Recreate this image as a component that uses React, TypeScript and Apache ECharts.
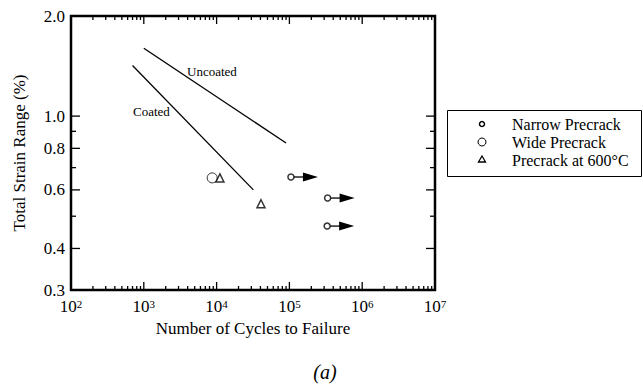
import React, { useEffect, useRef } from "react";
import * as echarts from "echarts";

const FONT = '"Liberation Serif", "Times New Roman", serif';

// Axis ranges
const X_MIN = 100;
const X_MAX = 1e7;
const Y_MIN = 0.3;
const Y_MAX = 2.0;

// Tick values
const xMajorTicks = [1e2, 1e3, 1e4, 1e5, 1e6, 1e7];
const xMinorSteps = [2, 3, 4, 5, 6, 7, 8, 9];
const yLabelTicks = [0.3, 0.4, 0.6, 0.8, 1.0, 2.0];
const yTickLabels = ["0.3", "0.4", "0.6", "0.8", "1.0", "2.0"];
const yMinorTicks = [0.5, 0.7, 0.9];

// Fitted lines
const uncoatedLine = [
  [1000, 1.6],
  [90000, 0.83],
];
const coatedLine = [
  [700, 1.42],
  [32000, 0.6],
];

// Specimens
const narrowPrecrack = [
  [105000, 0.656],
  [335000, 0.567],
  [330000, 0.467],
];
const widePrecrack = [[8700, 0.652]];
const precrack600 = [
  [11100, 0.652],
  [40700, 0.545],
];

const legendNames = ["Narrow Precrack", "Wide Precrack", "Precrack at 600\u00b0C"];

export default function App() {
  const ref = useRef<HTMLDivElement>(null);

  useEffect(() => {
    if (!ref.current) return;
    const chart = echarts.init(ref.current, null, { renderer: "svg" });

    const tickRender = (params: any, api: any) => {
      const children: any[] = [];
      const [xl, yb] = api.coord([X_MIN, Y_MIN]);
      const [xr, yt] = api.coord([X_MAX, Y_MAX]);
      const st = { stroke: "#000", lineWidth: 1.3 };
      const xt: { v: number; major: boolean }[] = [];
      for (let i = 0; i < xMajorTicks.length; i++) {
        xt.push({ v: xMajorTicks[i], major: true });
        if (i < xMajorTicks.length - 1) {
          xMinorSteps.forEach((k) => xt.push({ v: k * xMajorTicks[i], major: false }));
        }
      }
      xt.forEach((t) => {
        const [x] = api.coord([t.v, Y_MIN]);
        const len = t.major ? 8 : 4;
        children.push({ type: "line", shape: { x1: x, y1: yb, x2: x, y2: yb - len }, style: st });
        children.push({ type: "line", shape: { x1: x, y1: yt, x2: x, y2: yt + len }, style: st });
      });
      const yt2 = yLabelTicks.map((v) => ({ v, major: true })).concat(yMinorTicks.map((v) => ({ v, major: false })));
      yt2.forEach((t) => {
        const [, y] = api.coord([X_MIN, t.v]);
        const len = t.major ? 9 : 5;
        children.push({ type: "line", shape: { x1: xl, y1: y, x2: xl + len, y2: y }, style: st });
        children.push({ type: "line", shape: { x1: xr, y1: y, x2: xr - len, y2: y }, style: st });
      });
      yLabelTicks.forEach((v, i) => {
        const [, y] = api.coord([X_MIN, v]);
        children.push({
          type: "text",
          style: {
            text: yTickLabels[i],
            x: xl - 6,
            y,
            align: "right",
            verticalAlign: "middle",
            textAlign: "right",
            textVerticalAlign: "middle",
            fill: "#000",
            fontFamily: FONT,
            fontSize: 17,
          },
        });
      });
      return { type: "group", children };
    };

    const arrowRender = (params: any, api: any) => {
      const [x, y] = api.coord([api.value(0), api.value(1)]);
      return {
        type: "group",
        children: [
          { type: "line", shape: { x1: x + 3, y1: y, x2: x + 13, y2: y }, style: { stroke: "#000", lineWidth: 1.3 } },
          {
            type: "polygon",
            shape: { points: [[x + 12, y - 4.5], [x + 27, y], [x + 12, y + 4.5]] },
            style: { fill: "#000" },
          },
        ],
      };
    };

    const lineStyle = { color: "#000", width: 1.3 };

    const option: any = {
      animation: false,
      backgroundColor: "#fff",
      grid: {
        left: 71,
        top: 16,
        width: 364,
        height: 274,
        show: true,
        borderColor: "#000",
        borderWidth: 2.5,
        backgroundColor: "transparent",
      },
      xAxis: {
        type: "log",
        logBase: 10,
        min: X_MIN,
        max: X_MAX,
        axisLine: { show: false },
        axisTick: { show: false },
        splitLine: { show: false },
        axisLabel: {
          margin: 8,
          formatter: (v: number) => `{b|10}{s|${Math.round(Math.log10(v))}}`,
          rich: {
            b: { fontFamily: FONT, fontSize: 17, color: "#000" },
            s: { fontFamily: FONT, fontSize: 11, color: "#000", verticalAlign: "top", padding: [0, 0, 6, 0] },
          },
        },
        name: "Number of Cycles to Failure",
        nameLocation: "middle",
        nameGap: 29,
        nameTextStyle: { fontFamily: FONT, fontSize: 17, color: "#000" },
      },
      yAxis: {
        type: "log",
        logBase: 10,
        min: Y_MIN,
        max: Y_MAX,
        axisLine: { show: false },
        axisTick: { show: false },
        axisLabel: { show: false },
        splitLine: { show: false },
        name: "Total Strain Range (%)",
        nameLocation: "middle",
        nameGap: 43,
        nameTextStyle: { fontFamily: FONT, fontSize: 17, color: "#000" },
      },
      graphic: [
        {
          type: "rect",
          shape: { x: 447.5, y: 110.5, width: 194, height: 66 },
          style: { fill: "none", stroke: "#000", lineWidth: 1 },
        },
        { type: "circle", shape: { cx: 482, cy: 124, r: 2.5 }, style: { fill: "#fff", stroke: "#000", lineWidth: 1.5 } },
        { type: "circle", shape: { cx: 482, cy: 142, r: 4 }, style: { fill: "#fff", stroke: "#000", lineWidth: 1 } },
        {
          type: "polygon",
          shape: { points: [[482, 156], [485.5, 162], [478.5, 162]] },
          style: { fill: "#fff", stroke: "#000", lineWidth: 1.3 },
        },
        ...legendNames.map((t, i) => ({
          type: "text",
          x: 512,
          y: 124 + i * 18,
          style: {
            text: t,
            fill: "#000",
            fontFamily: FONT,
            fontSize: 16,
            textVerticalAlign: "middle",
            verticalAlign: "middle",
          },
        })),
        {
          type: "text",
          x: 187,
          y: 71,
          style: { text: "Uncoated", fill: "#000", fontFamily: FONT, fontSize: 13, verticalAlign: "middle", textVerticalAlign: "middle" },
        },
        {
          type: "text",
          x: 133,
          y: 111,
          style: { text: "Coated", fill: "#000", fontFamily: FONT, fontSize: 13, verticalAlign: "middle", textVerticalAlign: "middle" },
        },
        {
          type: "text",
          x: 325,
          y: 372,
          style: {
            text: "(a)",
            fill: "#000",
            fontFamily: FONT,
            fontSize: 20,
            fontStyle: "italic",
            align: "center",
            textAlign: "center",
            verticalAlign: "middle",
            textVerticalAlign: "middle",
          },
        },
      ],
      series: [
        {
          type: "custom",
          name: "ticks",
          renderItem: tickRender,
          data: [[X_MIN, Y_MIN]],
          silent: true,
          z: 1,
        },
        {
          type: "line",
          name: "Uncoated",
          data: uncoatedLine,
          symbol: "none",
          lineStyle,
          z: 2,
        },
        {
          type: "line",
          name: "Coated",
          data: coatedLine,
          symbol: "none",
          lineStyle,
          z: 2,
        },
        {
          type: "custom",
          name: "arrows",
          renderItem: arrowRender,
          data: narrowPrecrack,
          z: 3,
        },
        {
          type: "scatter",
          name: legendNames[0],
          data: narrowPrecrack,
          symbol: "circle",
          symbolSize: 6,
          itemStyle: { color: "#fff", borderColor: "#000", borderWidth: 1.5 },
          z: 4,
        },
        {
          type: "scatter",
          name: legendNames[1],
          data: widePrecrack,
          symbol: "circle",
          symbolSize: 10,
          itemStyle: { color: "#fff", borderColor: "#000", borderWidth: 1 },
          z: 4,
        },
        {
          type: "scatter",
          name: legendNames[2],
          data: precrack600,
          symbol: "triangle",
          symbolSize: 8,
          itemStyle: { color: "#fff", borderColor: "#000", borderWidth: 1.5 },
          z: 4,
        },
      ],
    };

    chart.setOption(option);
    return () => chart.dispose();
  }, []);

  return <div ref={ref} style={{ width: 643, height: 389, position: "absolute", left: 0, top: 0 }} />;
}
